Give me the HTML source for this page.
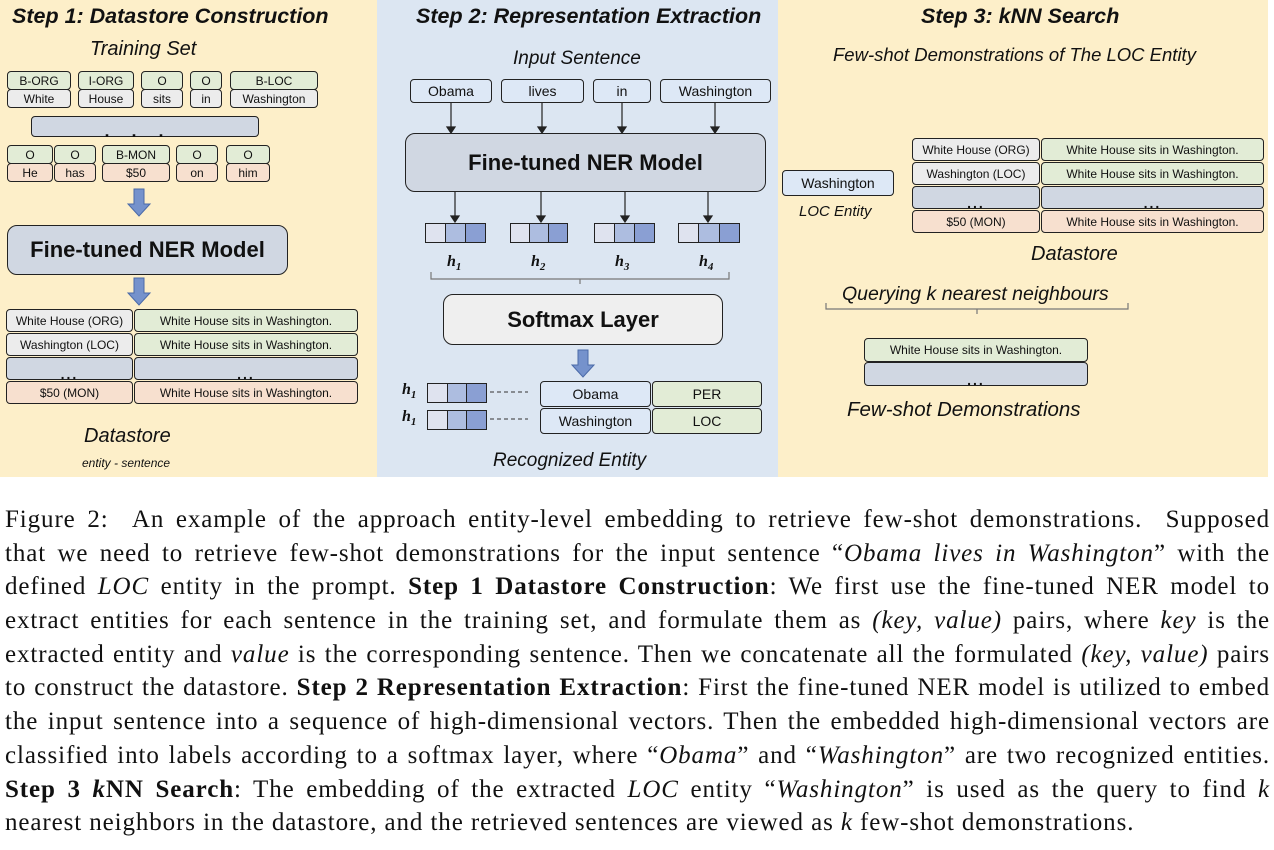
<!DOCTYPE html>
<html><head><meta charset="utf-8"><style>
*{margin:0;padding:0;box-sizing:border-box}
body{width:1274px;height:850px;background:#fff;position:relative;overflow:hidden;font-family:"Liberation Sans",sans-serif;color:#111}
.p{position:absolute}
.b{position:absolute;border:1.5px solid #222;border-radius:4px;display:flex;align-items:center;justify-content:center;font-size:12px;white-space:nowrap}
.g{background:#e2ecd6}.w{background:#ececec}.k{background:#f7e0cf}.s{background:#d0d7e2}.u{background:#dde8f6}
.t{position:absolute;white-space:nowrap;font-style:italic}
.ti{font-weight:bold;font-size:21.5px}
.dots{font-weight:bold;font-size:14px;letter-spacing:2px;align-items:flex-end;line-height:10px}
.cap{position:absolute;left:5px;width:1265px;font-family:"Liberation Serif",serif;font-size:25px;letter-spacing:0.9px;line-height:33.7px;top:503px}
.cap div{white-space:nowrap;text-align:justify;text-align-last:justify;height:33.7px}
.cap div.l{text-align-last:left}
.cap i{font-style:italic}
.vec{position:absolute;height:20px;display:flex;border:1.5px solid #222}
.vec span{flex:1;border-right:1.5px solid #222}.vec span:last-child{border-right:none}
.vec span:nth-child(1){background:#dfe3ef}.vec span:nth-child(2){background:#adbde0}.vec span:nth-child(3){background:#8a9fd3}
.h{position:absolute;font-family:"Liberation Serif",serif;font-weight:bold;font-style:italic;font-size:16px}
.h sub{font-size:11px}
</style></head><body>
<div class="p" style="left:0;top:0;width:377px;height:477px;background:#fdefc9"></div>
<div class="p" style="left:377px;top:0;width:401px;height:477px;background:#dce6f2"></div>
<div class="p" style="left:778px;top:0;width:490px;height:477px;background:#fdefc9"></div>

<!-- Step 1 -->
<div class="t ti" style="left:12px;top:4px">Step 1: Datastore Construction</div>
<div class="t" style="left:90px;top:38px;font-size:20px">Training Set</div>
<div class="b g" style="left:7px;top:71px;width:64px;height:19px">B-ORG</div><div class="b w" style="left:7px;top:89px;width:64px;height:19px">White</div>
<div class="b g" style="left:78px;top:71px;width:56px;height:19px">I-ORG</div><div class="b w" style="left:78px;top:89px;width:56px;height:19px">House</div>
<div class="b g" style="left:141px;top:71px;width:42px;height:19px">O</div><div class="b w" style="left:141px;top:89px;width:42px;height:19px">sits</div>
<div class="b g" style="left:190px;top:71px;width:32px;height:19px">O</div><div class="b w" style="left:190px;top:89px;width:32px;height:19px">in</div>
<div class="b g" style="left:230px;top:71px;width:88px;height:19px">B-LOC</div><div class="b w" style="left:230px;top:89px;width:88px;height:19px">Washington</div>
<div class="b s dots" style="left:31px;top:116px;width:228px;height:21px;font-size:18px;letter-spacing:22px">...</div>
<div class="b g" style="left:7px;top:145px;width:46px;height:19px">O</div><div class="b k" style="left:7px;top:163px;width:46px;height:19px">He</div>
<div class="b g" style="left:54px;top:145px;width:42px;height:19px">O</div><div class="b k" style="left:54px;top:163px;width:42px;height:19px">has</div>
<div class="b g" style="left:102px;top:145px;width:68px;height:19px">B-MON</div><div class="b k" style="left:102px;top:163px;width:68px;height:19px">$50</div>
<div class="b g" style="left:176px;top:145px;width:42px;height:19px">O</div><div class="b k" style="left:176px;top:163px;width:42px;height:19px">on</div>
<div class="b g" style="left:226px;top:145px;width:44px;height:19px">O</div><div class="b k" style="left:226px;top:163px;width:44px;height:19px">him</div>
<svg class="p" style="left:126px;top:188px" width="26" height="30"><path d="M8 1h10v15h6L13 28 2 16h6z" fill="#7592cc" stroke="#4a6aa8"/></svg>
<div class="b s" style="left:7px;top:225px;width:281px;height:50px;border-radius:10px;font-size:22px;font-weight:bold">Fine-tuned NER Model</div>
<svg class="p" style="left:126px;top:277px" width="26" height="30"><path d="M8 1h10v15h6L13 28 2 16h6z" fill="#7592cc" stroke="#4a6aa8"/></svg>
<div class="b w" style="left:6px;top:309px;width:127px;height:23px">White House (ORG)</div><div class="b g" style="left:134px;top:309px;width:224px;height:23px">White House sits in Washington.</div>
<div class="b w" style="left:6px;top:333px;width:127px;height:23px">Washington (LOC)</div><div class="b g" style="left:134px;top:333px;width:224px;height:23px">White House sits in Washington.</div>
<div class="b s dots" style="left:6px;top:357px;width:127px;height:23px">...</div><div class="b s dots" style="left:134px;top:357px;width:224px;height:23px">...</div>
<div class="b k" style="left:6px;top:381px;width:127px;height:23px">$50 (MON)</div><div class="b k" style="left:134px;top:381px;width:224px;height:23px">White House sits in Washington.</div>
<div class="t" style="left:84px;top:425px;font-size:20px">Datastore</div>
<div class="t" style="left:82px;top:456px;font-size:12px">entity - sentence</div>

<!-- Step 2 -->
<div class="t ti" style="left:416px;top:4px">Step 2: Representation Extraction</div>
<div class="t" style="left:513px;top:48px;font-size:19px">Input Sentence</div>
<div class="b u" style="left:410px;top:79px;width:82px;height:24px;font-size:14px">Obama</div>
<div class="b u" style="left:501px;top:79px;width:83px;height:24px;font-size:14px">lives</div>
<div class="b u" style="left:593px;top:79px;width:58px;height:24px;font-size:14px">in</div>
<div class="b u" style="left:660px;top:79px;width:111px;height:24px;font-size:14px">Washington</div>
<svg class="p" style="left:377px;top:0" width="401" height="477">
<g stroke="#222" stroke-width="1.2" fill="#222">
<line x1="74" y1="103" x2="74" y2="128"/><path d="M70 127l4 6 4-6z"/>
<line x1="165" y1="103" x2="165" y2="128"/><path d="M161 127l4 6 4-6z"/>
<line x1="245" y1="103" x2="245" y2="128"/><path d="M241 127l4 6 4-6z"/>
<line x1="338" y1="103" x2="338" y2="128"/><path d="M334 127l4 6 4-6z"/>
<line x1="78" y1="192" x2="78" y2="217"/><path d="M74 216l4 6 4-6z"/>
<line x1="164" y1="192" x2="164" y2="217"/><path d="M160 216l4 6 4-6z"/>
<line x1="248" y1="192" x2="248" y2="217"/><path d="M244 216l4 6 4-6z"/>
<line x1="331" y1="192" x2="331" y2="217"/><path d="M327 216l4 6 4-6z"/>
</g>
<path d="M54 272v7h149v5M203 279h149v-7" fill="none" stroke="#777" stroke-width="1.2"/>
<path d="M113 392h38M113 419h38" stroke="#333" stroke-dasharray="4 3"/>
</svg>
<div class="b s" style="left:405px;top:133px;width:361px;height:59px;border-radius:10px;font-size:22px;font-weight:bold">Fine-tuned NER Model</div>
<div class="vec" style="left:425px;top:223px;width:61px"><span></span><span></span><span></span></div>
<div class="vec" style="left:510px;top:223px;width:58px"><span></span><span></span><span></span></div>
<div class="vec" style="left:594px;top:223px;width:61px"><span></span><span></span><span></span></div>
<div class="vec" style="left:678px;top:223px;width:62px"><span></span><span></span><span></span></div>
<div class="h" style="left:447px;top:253px">h<sub>1</sub></div>
<div class="h" style="left:531px;top:253px">h<sub>2</sub></div>
<div class="h" style="left:615px;top:253px">h<sub>3</sub></div>
<div class="h" style="left:699px;top:253px">h<sub>4</sub></div>
<div class="b" style="left:443px;top:294px;width:280px;height:51px;border-radius:10px;background:#efefef;font-size:22px;font-weight:bold">Softmax Layer</div>
<svg class="p" style="left:570px;top:349px" width="26" height="30"><path d="M8 1h10v15h6L13 28 2 16h6z" fill="#7592cc" stroke="#4a6aa8"/></svg>
<div class="h" style="left:402px;top:381px">h<sub>1</sub></div>
<div class="h" style="left:402px;top:408px">h<sub>1</sub></div>
<div class="vec" style="left:427px;top:383px;width:60px"><span></span><span></span><span></span></div>
<div class="vec" style="left:427px;top:410px;width:60px"><span></span><span></span><span></span></div>
<div class="b u" style="left:540px;top:381px;width:111px;height:26px;font-size:14px">Obama</div>
<div class="b g" style="left:652px;top:381px;width:110px;height:26px;font-size:14px">PER</div>
<div class="b u" style="left:540px;top:408px;width:111px;height:26px;font-size:14px">Washington</div>
<div class="b g" style="left:652px;top:408px;width:110px;height:26px;font-size:14px">LOC</div>
<div class="t" style="left:493px;top:450px;font-size:19px">Recognized Entity</div>

<!-- Step 3 -->
<div class="t ti" style="left:921px;top:4px">Step 3: kNN Search</div>
<div class="t" style="left:833px;top:44px;font-size:18.5px">Few-shot Demonstrations of The LOC Entity</div>
<div class="b u" style="left:782px;top:170px;width:112px;height:26px;font-size:14px">Washington</div>
<div class="t" style="left:799px;top:203px;font-size:15px">LOC Entity</div>
<div class="b w" style="left:912px;top:138px;width:128px;height:23px">White House (ORG)</div><div class="b g" style="left:1041px;top:138px;width:223px;height:23px">White House sits in Washington.</div>
<div class="b w" style="left:912px;top:162px;width:128px;height:23px">Washington (LOC)</div><div class="b g" style="left:1041px;top:162px;width:223px;height:23px">White House sits in Washington.</div>
<div class="b s dots" style="left:912px;top:186px;width:128px;height:23px">...</div><div class="b s dots" style="left:1041px;top:186px;width:223px;height:23px">...</div>
<div class="b k" style="left:912px;top:210px;width:128px;height:23px">$50 (MON)</div><div class="b k" style="left:1041px;top:210px;width:223px;height:23px">White House sits in Washington.</div>
<div class="t" style="left:1031px;top:243px;font-size:20px">Datastore</div>
<div class="t" style="left:842px;top:283px;font-size:19.5px">Querying k nearest neighbours</div>
<svg class="p" style="left:820px;top:300px" width="320" height="20"><path d="M6 3v6h151v5M157 9h151v-6" fill="none" stroke="#777" stroke-width="1.2"/></svg>
<div class="b g" style="left:864px;top:338px;width:224px;height:24px">White House sits in Washington.</div>
<div class="b s dots" style="left:864px;top:362px;width:224px;height:24px">...</div>
<div class="t" style="left:847px;top:398px;font-size:20.5px">Few-shot Demonstrations</div>

<div class="cap">
<div>Figure 2: &nbsp;An example of the approach entity-level embedding to retrieve few-shot demonstrations. &nbsp;Supposed</div>
<div>that we need to retrieve few-shot demonstrations for the input sentence “<i>Obama lives in Washington</i>” with the</div>
<div>defined <i>LOC</i> entity in the prompt. <b>Step 1 Datastore Construction</b>: We first use the fine-tuned NER model to</div>
<div>extract entities for each sentence in the training set, and formulate them as <i>(key, value)</i> pairs, where <i>key</i> is the</div>
<div>extracted entity and <i>value</i> is the corresponding sentence. Then we concatenate all the formulated <i>(key, value)</i> pairs</div>
<div>to construct the datastore. <b>Step 2 Representation Extraction</b>: First the fine-tuned NER model is utilized to embed</div>
<div>the input sentence into a sequence of high-dimensional vectors. Then the embedded high-dimensional vectors are</div>
<div>classified into labels according to a softmax layer, where “<i>Obama</i>” and “<i>Washington</i>” are two recognized entities.</div>
<div><b>Step 3 <i>k</i>NN Search</b>: The embedding of the extracted <i>LOC</i> entity “<i>Washington</i>” is used as the query to find <i>k</i></div>
<div class="l">nearest neighbors in the datastore, and the retrieved sentences are viewed as <i>k</i> few-shot demonstrations.</div>
</div>
</body></html>
